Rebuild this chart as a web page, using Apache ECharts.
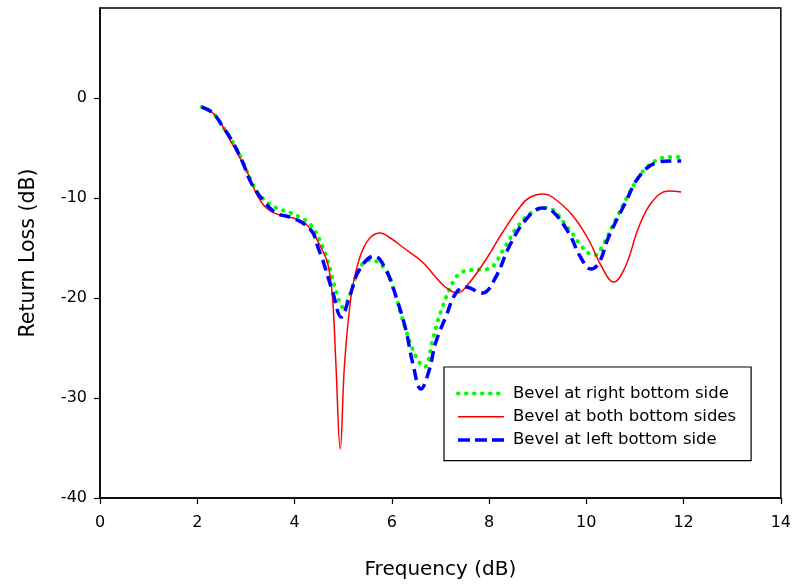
<!DOCTYPE html>
<html>
<head>
<meta charset="utf-8">
<script src="https://cdn.jsdelivr.net/npm/echarts@6/dist/echarts.min.js"></script>
<style>
  html, body { margin: 0; padding: 0; background: #fff; }
  #chart { width: 794px; height: 586px; }
</style>
</head>
<body>
<div id="chart"></div>
<script>
// Return loss curves for the three bevel configurations
const rightFreq = [2.09, 2.32, 2.53, 2.74, 2.94, 3.11, 3.28, 3.59, 3.93, 4.10, 4.27, 4.41, 4.58, 4.72, 4.85, 4.99,
  5.20, 5.33, 5.57, 5.88, 6.02, 6.29, 6.50, 6.67, 6.84, 7.00, 7.28, 7.45, 7.62, 7.97, 8.34, 8.55, 8.86, 9.19,
  9.64, 9.88, 10.04, 10.19, 10.32, 10.60, 11.08, 11.38, 11.73, 11.90];
const rightLoss = [-0.9, -1.5, -2.9, -4.5, -6.4, -8.3, -9.7, -10.9, -11.5, -11.9, -12.4, -13.2, -14.9, -16.9, -19.2, -20.9,
  -18.9, -17.0, -16.2, -17.2, -18.9, -23.2, -25.9, -26.9, -24.2, -21.5, -18.2, -17.4, -17.2, -17.1, -14.8, -13.1, -11.5, -11.0,
  -13.1, -14.7, -15.5, -15.7, -14.9, -12.2, -7.9, -6.4, -5.9, -5.9];

const bothFreq = [2.09, 2.32, 2.53, 2.73, 3.01, 3.21, 3.42, 3.69, 3.97, 4.21, 4.38, 4.51, 4.68, 4.78, 4.85, 4.94,
  5.03, 5.16, 5.27, 5.40, 5.57, 5.76, 6.00, 6.22, 6.63, 6.90, 7.10, 7.35, 7.59, 7.93, 8.27, 8.62, 8.82, 9.11,
  9.30, 9.71, 10.05, 10.32, 10.56, 10.80, 11.08, 11.35, 11.69, 11.95];
const bothLoss = [-0.9, -1.5, -2.9, -4.7, -7.2, -9.5, -11.0, -11.7, -12.0, -12.5, -13.5, -14.6, -16.5, -19.9, -26.5, -35.1,
  -26.5, -19.9, -17.2, -15.2, -13.9, -13.5, -14.1, -14.9, -16.4, -17.9, -18.9, -19.5, -18.5, -16.2, -13.5, -11.0, -10.0, -9.6,
  -9.9, -11.7, -14.2, -16.9, -18.4, -16.9, -12.9, -10.4, -9.3, -9.4];

const leftFreq = [2.09, 2.32, 2.53, 2.74, 2.94, 3.11, 3.35, 3.62, 3.90, 4.17, 4.38, 4.48, 4.58, 4.79, 4.96,
  5.13, 5.33, 5.64, 5.88, 6.09, 6.29, 6.43, 6.60, 6.77, 6.90, 7.11, 7.32, 7.52, 7.86, 8.14, 8.41, 8.75, 9.09,
  9.30, 9.64, 9.88, 10.09, 10.26, 10.46, 10.80, 11.08, 11.42, 11.76, 11.95];
const leftLoss = [-0.9, -1.5, -2.9, -4.5, -6.5, -8.5, -10.2, -11.5, -11.9, -12.5, -13.5, -14.9, -16.2, -19.5, -21.9,
  -19.9, -17.2, -15.8, -17.2, -19.9, -23.2, -26.5, -29.1, -27.2, -24.5, -21.9, -19.5, -18.9, -19.5, -17.9, -14.9, -12.2, -11.0,
  -11.3, -13.5, -15.9, -17.1, -16.5, -13.9, -10.5, -7.9, -6.5, -6.3, -6.3];

const xTicks = [0, 2, 4, 6, 8, 10, 12, 14];
const yTicks = [-40, -30, -20, -10, 0];

const seriesNames = ['Bevel at right bottom side', 'Bevel at both bottom sides', 'Bevel at left bottom side'];

const zip = (xs, ys) => xs.map((x, i) => [x, ys[i]]);
const FONT = 'DejaVu Sans, Verdana, sans-serif';

const greenLine = { color: '#00ff00', width: 4, type: [0.5, 7.5], cap: 'round' };
const redLine = { color: '#ff0000', width: 1.5, type: 'solid', cap: 'butt' };
const blueLine = { color: '#0000ff', width: 3.5, type: [11, 6], cap: 'butt' };
// legend samples show only the line, no marker
const noMarker = { opacity: 0 };

const chart = echarts.init(document.getElementById('chart'), null, { renderer: 'canvas' });

chart.setOption({
  animation: false,
  backgroundColor: '#ffffff',
  textStyle: { fontFamily: FONT, color: '#000' },
  grid: {
    left: 100, right: 13, top: 8, bottom: 88,
    show: true, borderColor: '#000', borderWidth: 1.5, backgroundColor: 'transparent'
  },
  legend: {
    orient: 'vertical',
    left: 444, top: 367,
    padding: [18, 15, 12, 12],
    itemGap: 6.3,
    itemWidth: 46,
    itemHeight: 17,
    borderColor: '#000',
    borderWidth: 1.2,
    backgroundColor: '#fff',
    textStyle: { fontFamily: FONT, fontSize: 16.5, color: '#000', padding: [0, 0, 0, 4] },
    data: [
      { name: seriesNames[0], lineStyle: greenLine, itemStyle: noMarker },
      { name: seriesNames[1], lineStyle: redLine, itemStyle: noMarker },
      { name: seriesNames[2], lineStyle: { color: '#0000ff', width: 3.5, type: [12, 5], cap: 'butt' }, itemStyle: noMarker }
    ]
  },
  xAxis: {
    type: 'value',
    min: xTicks[0], max: xTicks[xTicks.length - 1], interval: 2,
    name: 'Frequency (dB)',
    nameLocation: 'middle',
    nameGap: 62,
    nameTextStyle: { fontFamily: FONT, fontSize: 20, color: '#000' },
    axisLine: { show: true, onZero: false, lineStyle: { color: '#000', width: 1.5 } },
    axisTick: { show: true, inside: false, length: 6, lineStyle: { color: '#000', width: 1.2 } },
    axisLabel: { fontFamily: FONT, fontSize: 16, color: '#000', margin: 17 },
    splitLine: { show: false }
  },
  yAxis: {
    type: 'value',
    min: -40, max: 9,
    name: 'Return Loss (dB)',
    nameLocation: 'middle',
    nameGap: 61,
    nameTextStyle: { fontFamily: FONT, fontSize: 20.5, color: '#000' },
    axisLine: { show: true, onZero: false, lineStyle: { color: '#000', width: 1.5 } },
    axisTick: { show: true, inside: false, length: 6, customValues: yTicks, lineStyle: { color: '#000', width: 1.2 } },
    axisLabel: { fontFamily: FONT, fontSize: 16, color: '#000', margin: 13, customValues: yTicks },
    splitLine: { show: false }
  },
  series: [
    {
      name: seriesNames[0],
      type: 'line',
      data: zip(rightFreq, rightLoss),
      smooth: 0.4,
      showSymbol: false,
      symbol: 'none',
      color: '#00ff00',
      lineStyle: greenLine,
      z: 2
    },
    {
      name: seriesNames[1],
      type: 'line',
      data: zip(bothFreq, bothLoss),
      smooth: 0.4,
      showSymbol: false,
      symbol: 'none',
      color: '#ff0000',
      lineStyle: redLine,
      z: 3
    },
    {
      name: seriesNames[2],
      type: 'line',
      data: zip(leftFreq, leftLoss),
      smooth: 0.4,
      showSymbol: false,
      symbol: 'none',
      color: '#0000ff',
      lineStyle: blueLine,
      z: 4
    }
  ]
});
</script>
</body>
</html>
